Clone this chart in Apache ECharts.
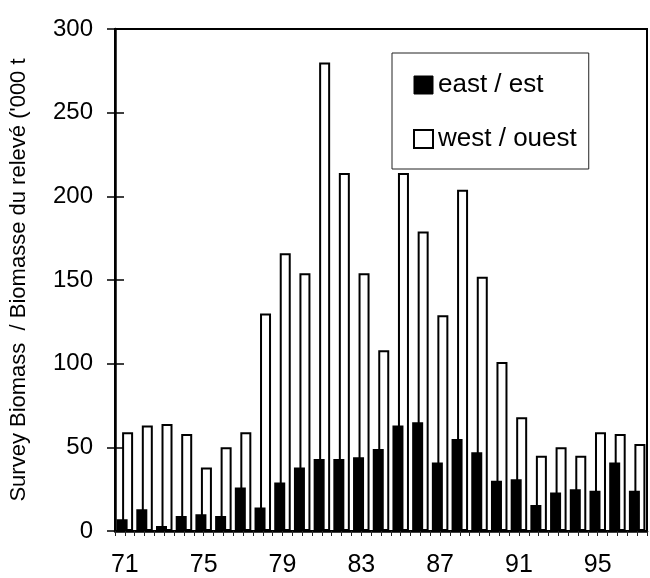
<!DOCTYPE html>
<html>
<head>
<meta charset="utf-8">
<script src="https://cdn.jsdelivr.net/npm/echarts@6/dist/echarts.min.js"></script>
<style>html,body{margin:0;padding:0;background:#fff;}#c{width:650px;height:578px;}</style>
</head>
<body>
<div id="c"></div>
<script>
const years = ['71','72','73','74','75','76','77','78','79','80','81','82','83','84','85','86','87','88','89','90','91','92','93','94','95','96','97'];
const east = [7,13,3,9,10,9,26,14,29,38,43,43,44,49,63,65,41,55,47,30,31,15.5,23,25,24,41,24];
const west = [59,63,64,58,38,50,59,130,166,154,280,214,154,108,214,179,129,204,152,101,68,45,50,45,59,58,52];
const yTicks = {min: 0, max: 300, interval: 50};
const halfSlots = [];
years.forEach(function(y){ halfSlots.push(y + 'a', y + 'b'); });

const FONT = 'Liberation Sans, Arial, sans-serif';
const chart = echarts.init(document.getElementById('c'));
chart.setOption({
  animation: false,
  backgroundColor: '#fff',
  grid: {left: 113, right: 3, top: 29, bottom: 47, show: true, borderColor: '#000', borderWidth: 2, backgroundColor: 'transparent'},
  legend: {
    orient: 'vertical', left: 392, top: 53,
    padding: [19, 12, 17, 21], itemGap: 28, itemWidth: 19, itemHeight: 18,
    borderColor: '#222', borderWidth: 1, borderRadius: 0,
    textStyle: {fontFamily: FONT, fontSize: 26, color: '#000'},
    data: [
      {name: 'east / est', icon: 'rect', itemStyle: {color: '#000', borderColor: '#000', borderWidth: 1}},
      {name: 'west / ouest', icon: 'rect', itemStyle: {color: '#fff', borderColor: '#000', borderWidth: 2}}
    ]
  },
  xAxis: [
    {
      type: 'category', data: years, position: 'bottom',
      axisLine: {show: true, lineStyle: {color: '#000', width: 2.5}},
      axisTick: {show: false},
      axisLabel: {interval: 3, margin: 22, fontFamily: FONT, fontSize: 25, color: '#000'}
    },
    {
      type: 'category', data: halfSlots, position: 'bottom',
      axisLine: {show: false},
      axisTick: {show: true, interval: 0, length: 5, lineStyle: {color: '#222', width: 1}},
      axisLabel: {show: false}
    }
  ],
  yAxis: [
    {
      type: 'value', min: yTicks.min, max: yTicks.max, interval: yTicks.interval,
      name: "Survey Biomass  / Biomasse du relevé ('000 t", nameLocation: 'middle', nameRotate: 90, nameGap: 85,
      nameTextStyle: {fontFamily: FONT, fontSize: 22, color: '#000'},
      axisLine: {show: true, lineStyle: {color: '#000', width: 2.5}},
      axisTick: {show: true, length: 8, lineStyle: {color: '#000', width: 1.5}},
      axisLabel: {margin: 22, fontFamily: FONT, fontSize: 24, color: '#000'},
      splitLine: {show: false}
    },
    {
      type: 'value', min: yTicks.min, max: yTicks.max, interval: yTicks.interval, position: 'left',
      axisLine: {show: false},
      axisTick: {show: true, inside: true, length: 9, lineStyle: {color: '#000', width: 1.5}},
      axisLabel: {show: false},
      splitLine: {show: false}
    }
  ],
  series: [
    {
      name: 'east / est', type: 'bar', data: east, xAxisIndex: 0, yAxisIndex: 0,
      barWidth: 11, barGap: '-50%', z: 4,
      itemStyle: {color: '#000', borderColor: '#000', borderWidth: 2}
    },
    {
      name: 'west / ouest', type: 'bar', data: west, xAxisIndex: 0, yAxisIndex: 0,
      barWidth: 11, barGap: '-50%', z: 3,
      itemStyle: {color: '#fff', borderColor: '#000', borderWidth: 2}
    }
  ]
});
</script>
</body>
</html>
